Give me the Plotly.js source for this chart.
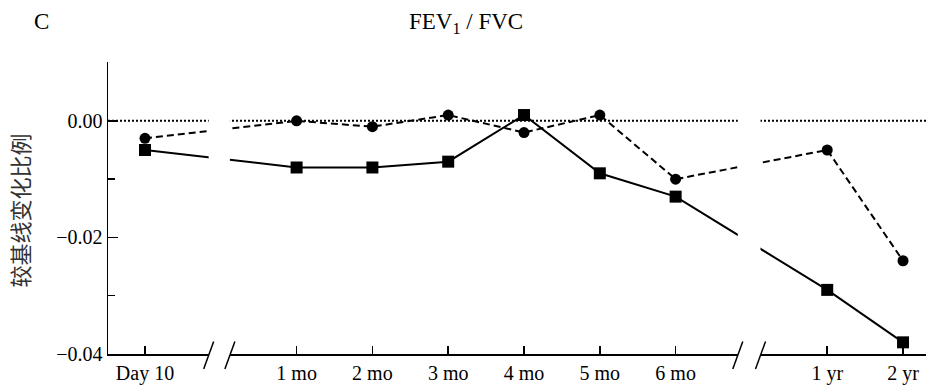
<!DOCTYPE html>
<html>
<head>
<meta charset="utf-8">
<script src="https://cdn.plot.ly/plotly-3.0.1.min.js"></script>
<style>html,body{margin:0;padding:0;background:#fff;}#chart{width:929px;height:389px;}</style>
</head>
<body>
<div id="chart"></div>
<script>
// ---- data ----
const categories = ['Day 10', '1 mo', '2 mo', '3 mo', '4 mo', '5 mo', '6 mo', '1 yr', '2 yr'];
const squareSeries = [-0.005, -0.008, -0.008, -0.007, 0.001, -0.009, -0.013, -0.029, -0.038];
const circleSeries = [-0.003, 0.000, -0.001, 0.001, -0.002, 0.001, -0.010, -0.005, -0.024];
const yTickValues = [0, -0.02, -0.04];
const yTickLabels = ['0.00', '\u22120.02', '\u22120.04'];

// axis order with spacer slots for the broken axis
const categoryOrder = ['Day 10', ' ', '1 mo', '2 mo', '3 mo', '4 mo', '5 mo', '6 mo', '  ', '1 yr', '2 yr'];

const serif = 'Liberation Serif, Times New Roman, serif';
const xRange = [-0.488, 10.303];
const breaks = [[0.84, 1.12], [7.82, 8.12]];
const plotW = 929 - 108 - 3, plotH = 389 - 62 - 35;
function px(u) { return (u - xRange[0]) / (xRange[1] - xRange[0]); }

const shapes = [
  {type: 'line', xref: 'paper', yref: 'y', x0: 0, x1: 1, y0: 0, y1: 0,
   line: {color: '#000', width: 2, dash: '2px,2px'}, layer: 'below'}
];
breaks.forEach(b => {
  shapes.push({type: 'rect', xref: 'paper', yref: 'paper', x0: px(b[0]), x1: px(b[1]),
    y0: -4 / plotH, y1: 1, fillcolor: '#fff', line: {width: 0}, layer: 'above'});
  [b[0], b[1]].forEach(e => {
    const cx = px(e), dx = 5 / plotW;
    shapes.push({type: 'line', xref: 'paper', yref: 'paper',
      x0: cx - dx, x1: cx + dx, y0: -15 / plotH, y1: 12.5 / plotH,
      line: {color: '#000', width: 1.5}, layer: 'above'});
  });
});

const traces = [
  {x: categories, y: squareSeries, type: 'scatter', mode: 'lines+markers', name: 'A',
   line: {color: '#000', width: 2}, marker: {symbol: 'square', size: 12, color: '#000'}},
  {x: categories, y: circleSeries, type: 'scatter', mode: 'lines+markers', name: 'B',
   line: {color: '#000', width: 2, dash: '7px,4px'}, marker: {symbol: 'circle', size: 11, color: '#000'}}
];

const layout = {
  width: 929, height: 389,
  margin: {l: 108, r: 3, t: 62, b: 35},
  paper_bgcolor: '#fff', plot_bgcolor: '#fff',
  showlegend: false,
  font: {family: serif, size: 20, color: '#000'},
  title: {text: 'FEV<sub>1</sub> / FVC', xref: 'container', x: 409 / 929, xanchor: 'left',
          yref: 'container', y: 1 - 21 / 389, yanchor: 'middle', font: {family: serif, size: 23, color: '#000'}},
  xaxis: {
    type: 'category', categoryorder: 'array', categoryarray: categoryOrder,
    range: xRange, tickmode: 'array', tickvals: categories, ticktext: categories,
    showline: true, linecolor: '#000', linewidth: 1.5,
    ticks: 'inside', ticklen: 8, tickwidth: 1.5, tickcolor: '#000',
    showgrid: false, zeroline: false, fixedrange: true,
    tickfont: {family: serif, size: 20, color: '#000'}
  },
  yaxis: {
    range: [-0.04, 0.0101], tickmode: 'array', tickvals: yTickValues, ticktext: yTickLabels,
    showline: true, linecolor: '#000', linewidth: 1.5,
    ticks: 'inside', ticklen: 10, tickwidth: 1.5, tickcolor: '#000',
    minor: {dtick: 0.01, tick0: 0, ticks: 'inside', ticklen: 7, tickwidth: 1.5, tickcolor: '#000', showgrid: false},
    showgrid: false, zeroline: false, fixedrange: true,
    tickfont: {family: serif, size: 20, color: '#000'}
  },
  shapes: shapes,
  annotations: [
    {text: 'C', xref: 'paper', yref: 'paper', x: (41 - 108) / plotW, y: (354 - 22) / plotH,
     xanchor: 'center', yanchor: 'middle', showarrow: false, font: {family: serif, size: 23, color: '#000'}},
    {text: '较基线变化比例', xref: 'paper', yref: 'paper', x: (18.5 - 108) / plotW, y: (354 - 211) / plotH,
     xanchor: 'center', yanchor: 'middle', textangle: -90, showarrow: false,
     font: {family: 'Noto Sans CJK SC, sans-serif', size: 22, color: '#333'}}
  ]
};

Plotly.newPlot('chart', traces, layout, {displayModeBar: false, staticPlot: true});
</script>
</body>
</html>
